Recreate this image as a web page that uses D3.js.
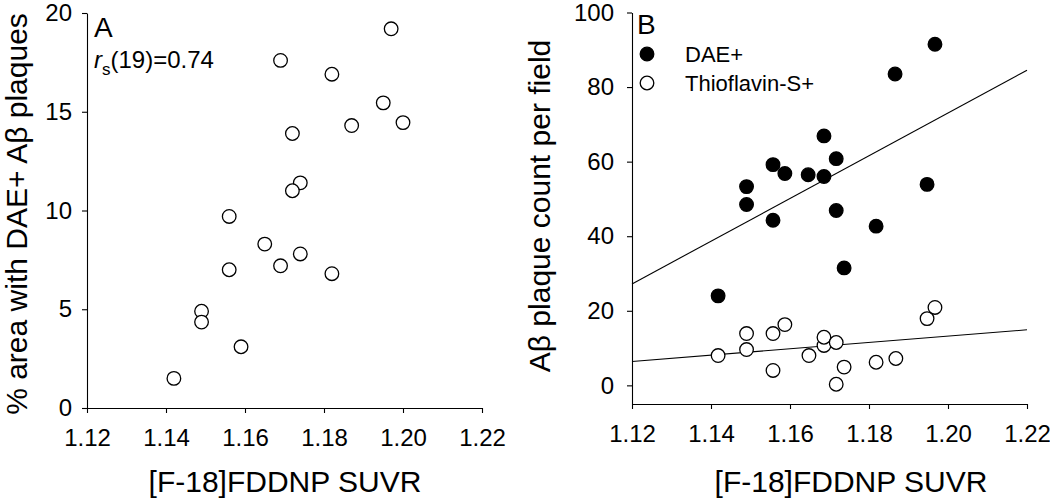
<!DOCTYPE html>
<html><head><meta charset="utf-8">
<script src="https://cdn.jsdelivr.net/npm/d3@7"></script>
<style>
html,body{margin:0;padding:0;background:#fff;}
svg{display:block;font-family:"Liberation Sans",Arial,sans-serif;}
</style></head>
<body>
<svg id="chart" width="1050" height="502"></svg>
<script>
// ---------- Data ----------
const xTicks = [1.12, 1.14, 1.16, 1.18, 1.20, 1.22];
const yTicksA = [0, 5, 10, 15, 20];
const yTicksB = [0, 20, 40, 60, 80, 100];

// Panel A: SUVR vs % area with DAE+ plaques
const suvrA = [1.142, 1.149, 1.149, 1.159, 1.156, 1.156, 1.165, 1.169, 1.174, 1.182,
               1.169, 1.182, 1.172, 1.187, 1.174, 1.172, 1.197, 1.195, 1.200];
const areaA = [1.5, 4.9, 4.35, 3.1, 9.7, 7.0, 8.3, 7.2, 7.8, 6.8,
               17.6, 16.9, 13.9, 14.3, 11.4, 11.0, 19.2, 15.45, 14.45];

// Panel B: DAE+ plaque counts
const suvrDAE = [1.1967, 1.1866, 1.1686, 1.1717, 1.1557, 1.1587, 1.1646, 1.1686,
                 1.149, 1.149, 1.1557, 1.1717, 1.1818, 1.1947, 1.1418, 1.1737];
const countDAE = [91.5, 83.5, 66.9, 60.8, 59.2, 56.8, 56.5, 56.0,
                  53.3, 48.5, 44.3, 46.9, 42.7, 53.9, 24.0, 31.5];

// Panel B: Thioflavin-S+ plaque counts
const suvrThio = [1.1418, 1.149, 1.149, 1.1557, 1.1557, 1.1587, 1.1648, 1.1686,
                  1.1686, 1.1717, 1.1717, 1.1737, 1.1818, 1.1868, 1.1947, 1.1967];
const countThio = [8.0, 13.9, 9.6, 13.9, 4.0, 16.3, 8.0, 10.7,
                   12.9, 11.5, 0.3, 4.9, 6.2, 7.2, 17.9, 20.9];

// Fitted lines (values at x = 1.12 and x = 1.22)
const fitX = [1.12, 1.22];
const fitDAE = [27.2, 84.5];
const fitThio = [6.4, 14.9];

const legendLabels = ["DAE+", "Thioflavin-S+"];

// ---------- Drawing ----------
const svg = d3.select("#chart");
const R = 6.8;

function styleAxis(g){
  g.selectAll("path.domain").attr("stroke","#000").attr("stroke-width",1.1);
  g.selectAll(".tick line").attr("stroke","#000").attr("stroke-width",1.1);
  g.selectAll(".tick text").attr("fill","#000").attr("font-size","24px")
    .attr("font-family",'"Liberation Sans",Arial,sans-serif');
}

// ----- Panel A -----
const xA = d3.scaleLinear().domain([1.12, 1.22]).range([87, 482]);
const yA = d3.scaleLinear().domain([0, 20]).range([408, 13]);

svg.append("g").attr("transform","translate(0,408)")
  .call(d3.axisBottom(xA).tickValues(xTicks).tickFormat(d3.format(".2f")).tickSize(5).tickSizeOuter(0).tickPadding(16))
  .call(styleAxis);
svg.append("g").attr("transform","translate(87,0)")
  .call(d3.axisLeft(yA).tickValues(yTicksA).tickFormat(d3.format("d")).tickSize(5).tickSizeOuter(0).tickPadding(10))
  .call(styleAxis);

svg.append("g").selectAll("circle").data(d3.range(suvrA.length)).join("circle")
  .attr("cx", i => xA(suvrA[i])).attr("cy", i => yA(areaA[i])).attr("r", R)
  .attr("fill","#fff").attr("stroke","#000").attr("stroke-width",1.3);

svg.append("text").attr("x",94).attr("y",37).attr("font-size","28px").text("A");
const rs = svg.append("text").attr("x",94).attr("y",68).attr("font-size","24px");
rs.append("tspan").attr("font-style","italic").text("r");
rs.append("tspan").attr("font-size","17px").attr("dy",7).text("s");
rs.append("tspan").attr("dy",-7).text("(19)=0.74");

svg.append("text").attr("transform","translate(27,214) rotate(-90)")
  .attr("text-anchor","middle").attr("font-size","30px").text("% area with DAE+ Aβ plaques");
svg.append("text").attr("x",285).attr("y",492)
  .attr("text-anchor","middle").attr("font-size","30px").text("[F-18]FDDNP SUVR");

// ----- Panel B -----
const xB = d3.scaleLinear().domain([1.12, 1.22]).range([632, 1027]);
const yB = d3.scaleLinear().domain([-5, 100]).range([404, 12.5]);

svg.append("g").attr("transform","translate(0,404)")
  .call(d3.axisBottom(xB).tickValues(xTicks).tickFormat(d3.format(".2f")).tickSize(5).tickSizeOuter(0).tickPadding(16))
  .call(styleAxis);
svg.append("g").attr("transform","translate(632,0)")
  .call(d3.axisLeft(yB).tickValues(yTicksB).tickFormat(d3.format("d")).tickSize(5).tickSizeOuter(0).tickPadding(13))
  .call(styleAxis);

const line = d3.line().x(d => xB(d[0])).y(d => yB(d[1]));
svg.append("path").attr("d", line(fitX.map((x,i)=>[x, fitDAE[i]])))
  .attr("fill","none").attr("stroke","#000").attr("stroke-width",1.1);
svg.append("path").attr("d", line(fitX.map((x,i)=>[x, fitThio[i]])))
  .attr("fill","none").attr("stroke","#000").attr("stroke-width",1.1);

svg.append("g").selectAll("circle").data(d3.range(suvrDAE.length)).join("circle")
  .attr("cx", i => xB(suvrDAE[i])).attr("cy", i => yB(countDAE[i])).attr("r", R)
  .attr("fill","#000").attr("stroke","#000").attr("stroke-width",1.3);
svg.append("g").selectAll("circle").data(d3.range(suvrThio.length)).join("circle")
  .attr("cx", i => xB(suvrThio[i])).attr("cy", i => yB(countThio[i])).attr("r", R)
  .attr("fill","#fff").attr("stroke","#000").attr("stroke-width",1.3);

svg.append("text").attr("x",637).attr("y",34).attr("font-size","28px").text("B");

// legend
const legY = [54, 83];
const legFill = ["#000", "#fff"];
legendLabels.forEach((lab, i) => {
  svg.append("circle").attr("cx",647).attr("cy",legY[i]).attr("r",R)
    .attr("fill",legFill[i]).attr("stroke","#000").attr("stroke-width",1.3);
  svg.append("text").attr("x",685).attr("y",legY[i]+8).attr("font-size","22px").text(lab);
});

svg.append("text").attr("transform","translate(550,206) rotate(-90)")
  .attr("text-anchor","middle").attr("font-size","30px").text("Aβ plaque count per field");
svg.append("text").attr("x",851).attr("y",492)
  .attr("text-anchor","middle").attr("font-size","30px").text("[F-18]FDDNP SUVR");
</script>
</body></html>
